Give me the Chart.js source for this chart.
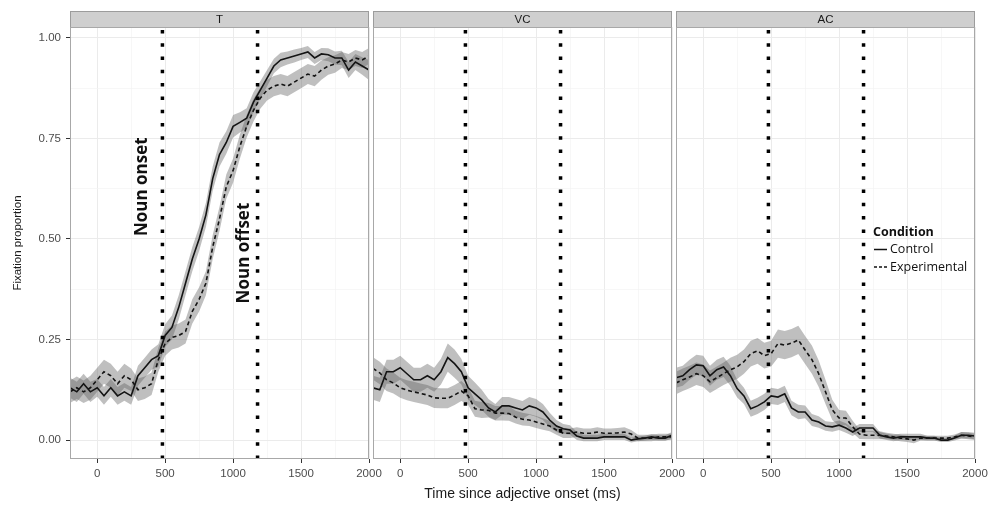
<!DOCTYPE html>
<html>
<head>
<meta charset="utf-8">
<script src="https://cdn.jsdelivr.net/npm/chart.js@4.4.1/dist/chart.umd.min.js"></script>
<style>
  html, body { margin: 0; padding: 0; background: #fff; }
  #wrap { position: relative; width: 998px; height: 505px; }
  #wrap canvas { position: absolute; left: 0; top: 0; }
</style>
</head>
<body>
<div id="wrap">
  <canvas id="panelT" width="998" height="505"></canvas>
  <canvas id="panelVC" width="998" height="505"></canvas>
  <canvas id="panelAC" width="998" height="505"></canvas>
</div>
<script>
// time since adjective onset (ms)
const times = [-200, -150, -100, -50, 0, 50, 100, 150, 200, 250, 300, 350, 400, 450, 500, 550, 600, 650, 700, 750,
  800, 850, 900, 950, 1000, 1050, 1100, 1150, 1200, 1250, 1300, 1350, 1400, 1450, 1500, 1550, 1600, 1650, 1700, 1750,
  1800, 1850, 1900, 1950, 2000];

const panelNames = ['T', 'VC', 'AC'];
const conditions = ['Control', 'Experimental'];

// T panel
const tControl = [0.13, 0.12, 0.14, 0.12, 0.13, 0.11, 0.13, 0.11, 0.12, 0.11,
  0.16, 0.18, 0.20, 0.21, 0.26, 0.28, 0.33, 0.39, 0.45, 0.50,
  0.56, 0.65, 0.71, 0.74, 0.78, 0.79, 0.80, 0.84, 0.87, 0.90,
  0.93, 0.945, 0.95, 0.955, 0.96, 0.965, 0.95, 0.96, 0.958, 0.95,
  0.95, 0.92, 0.94, 0.93, 0.92];
const tControlSe = [0.025, 0.025, 0.025, 0.025, 0.022, 0.022, 0.022, 0.022, 0.022, 0.022,
  0.025, 0.025, 0.025, 0.028, 0.028, 0.03, 0.03, 0.03, 0.03, 0.03,
  0.03, 0.03, 0.03, 0.028, 0.028, 0.025, 0.025, 0.025, 0.022, 0.02,
  0.018, 0.018, 0.016, 0.016, 0.015, 0.015, 0.015, 0.015, 0.016, 0.016,
  0.018, 0.02, 0.02, 0.022, 0.025];
const tExperimental = [0.12, 0.13, 0.12, 0.13, 0.15, 0.17, 0.16, 0.14, 0.16, 0.15,
  0.125, 0.13, 0.14, 0.20, 0.24, 0.255, 0.26, 0.27, 0.32, 0.35,
  0.39, 0.48, 0.55, 0.63, 0.67, 0.73, 0.78, 0.82, 0.85, 0.87,
  0.88, 0.885, 0.88, 0.89, 0.90, 0.91, 0.905, 0.92, 0.93, 0.935,
  0.945, 0.94, 0.95, 0.945, 0.955];
const tExperimentalSe = [0.028, 0.028, 0.028, 0.03, 0.03, 0.03, 0.03, 0.03, 0.03, 0.028,
  0.028, 0.028, 0.028, 0.03, 0.03, 0.03, 0.03, 0.03, 0.03, 0.03,
  0.03, 0.03, 0.03, 0.03, 0.03, 0.03, 0.028, 0.028, 0.026, 0.026,
  0.025, 0.025, 0.025, 0.025, 0.025, 0.025, 0.025, 0.024, 0.022, 0.022,
  0.02, 0.02, 0.02, 0.02, 0.02];

// VC panel
const vcControl = [0.13, 0.125, 0.17, 0.17, 0.18, 0.165, 0.15, 0.15, 0.16, 0.15,
  0.17, 0.205, 0.19, 0.17, 0.13, 0.115, 0.10, 0.08, 0.07, 0.085,
  0.085, 0.08, 0.075, 0.085, 0.08, 0.07, 0.05, 0.035, 0.028, 0.025,
  0.01, 0.005, 0.005, 0.005, 0.008, 0.008, 0.008, 0.008, 0.0, 0.003,
  0.005, 0.008, 0.005, 0.005, 0.012];
const vcControlSe = [0.03, 0.03, 0.03, 0.03, 0.03, 0.03, 0.03, 0.03, 0.03, 0.03,
  0.032, 0.035, 0.035, 0.032, 0.03, 0.028, 0.025, 0.022, 0.02, 0.022,
  0.022, 0.022, 0.022, 0.022, 0.022, 0.02, 0.018, 0.015, 0.012, 0.012,
  0.01, 0.008, 0.008, 0.008, 0.008, 0.008, 0.008, 0.008, 0.006, 0.006,
  0.006, 0.007, 0.007, 0.007, 0.008];
const vcExperimental = [0.178, 0.167, 0.15, 0.142, 0.13, 0.124, 0.12, 0.116, 0.112, 0.105,
  0.104, 0.104, 0.112, 0.122, 0.11, 0.078, 0.075, 0.074, 0.067, 0.067,
  0.066, 0.057, 0.052, 0.05, 0.045, 0.04, 0.035, 0.025, 0.017, 0.017,
  0.02, 0.017, 0.017, 0.02, 0.017, 0.017, 0.018, 0.02, 0.015, 0.005,
  0.005, 0.005, 0.008, 0.008, 0.008];
const vcExperimentalSe = [0.028, 0.028, 0.028, 0.026, 0.025, 0.025, 0.025, 0.025, 0.025, 0.025,
  0.025, 0.025, 0.025, 0.025, 0.022, 0.02, 0.02, 0.018, 0.018, 0.018,
  0.018, 0.016, 0.016, 0.015, 0.015, 0.014, 0.013, 0.012, 0.012, 0.012,
  0.012, 0.012, 0.012, 0.012, 0.012, 0.012, 0.012, 0.012, 0.01, 0.008,
  0.008, 0.008, 0.008, 0.008, 0.008];

// AC panel
const acControl = [0.155, 0.16, 0.175, 0.187, 0.185, 0.16, 0.175, 0.182, 0.16, 0.128,
  0.11, 0.078, 0.085, 0.095, 0.11, 0.107, 0.115, 0.08, 0.07, 0.07,
  0.05, 0.045, 0.035, 0.033, 0.037, 0.03, 0.02, 0.03, 0.03, 0.03,
  0.012, 0.008, 0.005, 0.008, 0.008, 0.008, 0.008, 0.005, 0.005, 0.0,
  0.0, 0.005, 0.012, 0.012, 0.01];
const acControlSe = [0.025, 0.025, 0.025, 0.025, 0.025, 0.025, 0.025, 0.025, 0.025, 0.022,
  0.02, 0.02, 0.02, 0.02, 0.02, 0.02, 0.02, 0.018, 0.018, 0.016,
  0.015, 0.014, 0.012, 0.012, 0.012, 0.012, 0.01, 0.01, 0.01, 0.01,
  0.008, 0.008, 0.008, 0.008, 0.008, 0.008, 0.008, 0.006, 0.006, 0.005,
  0.005, 0.006, 0.008, 0.008, 0.008];
const acExperimental = [0.142, 0.15, 0.157, 0.165, 0.16, 0.145, 0.155, 0.165, 0.175, 0.182,
  0.195, 0.215, 0.222, 0.21, 0.215, 0.24, 0.236, 0.241, 0.249, 0.224,
  0.20, 0.165, 0.12, 0.075, 0.055, 0.055, 0.033, 0.015, 0.012, 0.012,
  0.012, 0.01, 0.008, 0.005, 0.003, 0.0, 0.005, 0.005, 0.005, 0.005,
  0.005, 0.008, 0.012, 0.01, 0.008];
const acExperimentalSe = [0.028, 0.028, 0.028, 0.028, 0.028, 0.028, 0.028, 0.028, 0.03, 0.03,
  0.03, 0.032, 0.032, 0.032, 0.032, 0.035, 0.035, 0.035, 0.035, 0.035,
  0.035, 0.033, 0.03, 0.025, 0.02, 0.018, 0.015, 0.012, 0.01, 0.01,
  0.01, 0.008, 0.008, 0.008, 0.008, 0.008, 0.006, 0.006, 0.006, 0.006,
  0.006, 0.006, 0.008, 0.008, 0.008];

// noun onset / offset markers (ms)
const nounMarks = [480, 1180];
const nounLabels = ['Noun onset', 'Noun offset'];

const xTicks = [0, 250, 500, 750, 1000, 1250, 1500, 1750, 2000];
const yTicks = [0, 0.125, 0.25, 0.375, 0.5, 0.625, 0.75, 0.875, 1];
const X_MIN = -200, X_MAX = 2000;
const Y_MIN = -0.047, Y_MAX = 1.027;

const TICK_FONT = { family: 'Liberation Sans', size: 11.5 };
const isMajorX = v => v % 500 === 0;
const isMajorY = v => Math.abs(v * 4 - Math.round(v * 4)) < 1e-6;

// grey strip + panel border, like facet_wrap
const facetFrame = {
  id: 'facetFrame',
  afterDraw(chart, args, opts) {
    const { ctx, chartArea: a } = chart;
    ctx.save();
    ctx.fillStyle = '#cfcfcf';
    ctx.fillRect(a.left, a.top - 16, a.right - a.left, 16);
    ctx.strokeStyle = '#9c9c9c';
    ctx.lineWidth = 1;
    ctx.strokeRect(a.left + 0.5, a.top - 15.5, a.right - a.left - 1, 16);
    ctx.fillStyle = '#1a1a1a';
    ctx.font = '11.5px "Liberation Sans"';
    ctx.textAlign = 'center';
    ctx.textBaseline = 'middle';
    ctx.fillText(opts.title, (a.left + a.right) / 2, a.top - 7.5);
    ctx.strokeStyle = '#a8a8a8';
    ctx.strokeRect(a.left + 0.5, a.top + 0.5, a.right - a.left - 1, a.bottom - a.top - 1);
    ctx.restore();
  }
};

// rotated "Noun onset / offset" notes next to the dotted lines
const nounNotes = {
  id: 'nounNotes',
  afterDraw(chart, args, opts) {
    if (!opts.notes) return;
    const { ctx, scales: { x, y } } = chart;
    ctx.save();
    ctx.fillStyle = '#111';
    ctx.font = 'bold 17px "Open Sans"';
    ctx.textAlign = 'center';
    ctx.textBaseline = 'middle';
    opts.notes.forEach(n => {
      ctx.save();
      ctx.translate(x.getPixelForValue(n.at) + n.dx, y.getPixelForValue(n.y));
      ctx.rotate(-Math.PI / 2);
      ctx.fillText(n.text, 0, 0);
      ctx.restore();
    });
    ctx.restore();
  }
};

// "Condition" key drawn inside the last panel
const conditionKey = {
  id: 'conditionKey',
  afterDraw(chart, args, opts) {
    if (!opts.show) return;
    const { ctx, chartArea: a } = chart;
    const left = a.right - opts.fromRight;
    const top = a.top + opts.fromTop;
    const lines = chart.data.datasets.filter(d => d.isCondition);
    ctx.save();
    ctx.fillStyle = '#111';
    ctx.textBaseline = 'middle';
    ctx.font = 'bold 12.5px "Open Sans"';
    ctx.fillText('Condition', left, top);
    ctx.font = '12.5px "Open Sans"';
    lines.forEach((d, i) => {
      const yy = top + 17.5 * (i + 1);
      ctx.strokeStyle = '#111';
      ctx.lineWidth = 1.5;
      ctx.setLineDash(d.borderDash ? [3, 2] : []);
      ctx.beginPath();
      ctx.moveTo(left + 1, yy);
      ctx.lineTo(left + 14, yy);
      ctx.stroke();
      ctx.setLineDash([]);
      ctx.fillText(d.label, left + 17, yy);
    });
    ctx.restore();
  }
};

function band(vals, se, sign) {
  return times.map((t, i) => ({ x: t, y: vals[i] + sign * se[i] }));
}

function makePanel(canvasId, idx, ctrl, ctrlSe, expv, expSe, opts) {
  const ribbon = 'rgba(95, 95, 95, 0.4)';
  const datasets = [
    { data: band(ctrl, ctrlSe, -1), borderWidth: 0, pointRadius: 0, fill: false, order: 2 },
    { data: band(ctrl, ctrlSe, 1), borderWidth: 0, pointRadius: 0, fill: '-1', backgroundColor: ribbon, order: 2 },
    { data: band(expv, expSe, -1), borderWidth: 0, pointRadius: 0, fill: false, order: 2 },
    { data: band(expv, expSe, 1), borderWidth: 0, pointRadius: 0, fill: '-1', backgroundColor: ribbon, order: 2 },
    {
      label: conditions[0], isCondition: true,
      data: times.map((t, i) => ({ x: t, y: ctrl[i] })),
      borderColor: '#141414', borderWidth: 1.6, pointRadius: 0, fill: false, order: 1
    },
    {
      label: conditions[1], isCondition: true,
      data: times.map((t, i) => ({ x: t, y: expv[i] })),
      borderColor: '#141414', borderWidth: 1.6, borderDash: [4, 3], pointRadius: 0, fill: false, order: 1
    }
  ];
  nounMarks.forEach(m => {
    datasets.push({
      data: [{ x: m, y: Y_MIN }, { x: m, y: Y_MAX }],
      borderColor: '#000', borderWidth: 3.5, borderDash: [3.5, 9.8], borderCapStyle: 'butt',
      pointRadius: 0, fill: false, order: 0
    });
  });

  return new Chart(document.getElementById(canvasId), {
    type: 'line',
    data: { datasets: datasets },
    options: {
      responsive: false,
      animation: false,
      devicePixelRatio: 1,
      layout: { padding: opts.padding },
      scales: {
        x: {
          type: 'linear', min: X_MIN, max: X_MAX,
          afterBuildTicks: s => { s.ticks = xTicks.map(v => ({ value: v })); },
          afterFit: s => { s.height = 46; },
          ticks: {
            autoSkip: false, maxRotation: 0, padding: 4, color: '#4d4d4d', font: TICK_FONT,
            callback: v => isMajorX(v) ? String(v) : ''
          },
          grid: {
            color: c => isMajorX(c.tick.value) ? '#ebebeb' : '#f4f4f4',
            lineWidth: c => isMajorX(c.tick.value) ? 1 : 0.7,
            tickColor: c => isMajorX(c.tick.value) ? '#333' : 'rgba(0,0,0,0)',
            tickWidth: 1, tickLength: 4
          },
          border: { display: false },
          title: {
            display: !!opts.xTitle, text: opts.xTitle || '',
            color: '#1a1a1a', font: { family: 'Liberation Sans', size: 14 },
            padding: { top: 0, bottom: 2 }
          }
        },
        y: {
          type: 'linear', min: Y_MIN, max: Y_MAX,
          afterBuildTicks: s => { s.ticks = yTicks.map(v => ({ value: v })); },
          afterFit: s => { s.width = opts.yWidth; },
          ticks: {
            display: !!opts.yLabels, padding: 5, color: '#4d4d4d', font: TICK_FONT,
            callback: v => isMajorY(v) ? v.toFixed(2) : ''
          },
          grid: {
            color: c => isMajorY(c.tick.value) ? '#ebebeb' : '#f4f4f4',
            lineWidth: c => isMajorY(c.tick.value) ? 1 : 0.7,
            tickColor: c => isMajorY(c.tick.value) ? '#333' : 'rgba(0,0,0,0)',
            drawTicks: !!opts.yLabels, tickWidth: 1, tickLength: 4
          },
          border: { display: false },
          title: {
            display: !!opts.yTitle, text: opts.yTitle || '',
            color: '#1a1a1a', font: { family: 'Liberation Sans', size: 11.5 },
            padding: { top: 11, bottom: 0 }
          }
        }
      },
      plugins: {
        legend: { display: false },
        tooltip: { enabled: false },
        facetFrame: { title: panelNames[idx] },
        nounNotes: { notes: opts.notes },
        conditionKey: opts.key || { show: false }
      }
    },
    plugins: [facetFrame, nounNotes, conditionKey]
  });
}

makePanel('panelT', 0, tControl, tControlSe, tExperimental, tExperimentalSe, {
  padding: { left: 0, right: 629, top: 27, bottom: 0 },
  yWidth: 70, yLabels: true, yTitle: 'Fixation proportion',
  notes: [
    { text: nounLabels[0], at: nounMarks[0], dx: -20, y: 0.63 },
    { text: nounLabels[1], at: nounMarks[1], dx: -13, y: 0.465 }
  ]
});
makePanel('panelVC', 1, vcControl, vcControlSe, vcExperimental, vcExperimentalSe, {
  padding: { left: 373, right: 326, top: 27, bottom: 0 },
  yWidth: 0, xTitle: 'Time since adjective onset (ms)'
});
makePanel('panelAC', 2, acControl, acControlSe, acExperimental, acExperimentalSe, {
  padding: { left: 676, right: 23, top: 27, bottom: 0 },
  yWidth: 0,
  key: { show: true, fromRight: 102, fromTop: 205 }
});
</script>
</body>
</html>
